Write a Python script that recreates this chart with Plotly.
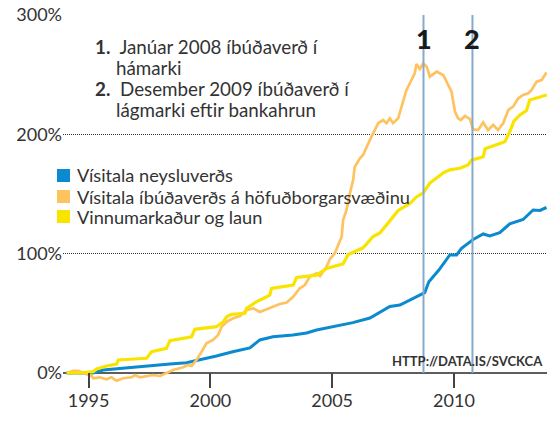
import plotly.graph_objects as go

# ---- data (decimal year, % change since start) ----
cpi_x = [1994.10, 1995.18, 1995.60, 1996.56, 1997.38, 1998.34, 1999.02, 1999.57, 2000.25, 2000.92,
         2001.62, 2002.03, 2002.57, 2003.39, 2003.95, 2004.36, 2004.77, 2005.32, 2005.85, 2006.55,
         2006.96, 2007.37, 2007.78, 2008.19, 2008.60, 2008.80, 2008.97, 2009.38, 2009.83, 2010.11,
         2010.31, 2010.79, 2011.20, 2011.47, 2011.88, 2012.29, 2012.84, 2013.25, 2013.53, 2013.80]
cpi_y = [0, 0, 2.5, 4.4, 5.9, 7.5, 8.6, 10.9, 14.2, 17.8,
         21, 27.7, 30.4, 31.8, 33.5, 36, 37.7, 39.4, 42.2, 46.1,
         51, 55.7, 57, 61, 65.4, 67.3, 76.5, 86.3, 98.9, 98.9,
         104.5, 111.9, 116.5, 114.8, 117.6, 124.9, 128.6, 136.6, 136.2, 138.7]

house_x = [1994.10, 1994.37, 1994.57, 1994.78, 1995.12, 1995.19, 1995.46, 1995.74, 1995.94, 1996.15,
           1996.42, 1996.77, 1996.90, 1997.11, 1997.38, 1997.65, 1997.93, 1998.20, 1998.47, 1998.88,
           1999.09, 1999.23, 1999.43, 1999.64, 1999.84, 2000.11, 2000.32, 2000.46, 2000.67, 2000.94,
           2001.21, 2001.49, 2001.76, 2002.03, 2002.44, 2002.85, 2003.13, 2003.40, 2003.67, 2003.88,
           2004.08, 2004.36, 2004.50, 2004.77, 2004.91, 2005.11, 2005.18, 2005.39, 2005.45, 2005.59,
           2005.73, 2005.86, 2005.93, 2006.14, 2006.27, 2006.41, 2006.55, 2006.75, 2006.89, 2007.09,
           2007.23, 2007.37, 2007.50, 2007.71, 2007.85, 2008.05, 2008.19, 2008.39, 2008.46, 2008.60,
           2008.74, 2008.88, 2009.01, 2009.29, 2009.56, 2009.77, 2009.90, 2010.04, 2010.17, 2010.28,
           2010.45, 2010.65, 2010.79, 2010.99, 2011.20, 2011.40, 2011.61, 2011.81, 2012.02, 2012.23,
           2012.43, 2012.64, 2012.84, 2013.05, 2013.19, 2013.39, 2013.60, 2013.80]
house_y = [0, 1.7, 1.7, 0.3, -2.5, -4.4, -3.6, -5.3, -3.6, -6.5,
           -4.4, -3.6, -1.7, -3.6, -2.5, -1.7, -2.5, -0.3, 2.5, 4.8,
           6.7, 5.9, 10.9, 17.8, 24.9, 27.7, 31.8, 38.8, 43.0, 45.8,
           47.8, 52.8, 54.2, 51.1, 54.2, 57.8, 59.1, 63.9, 71.0, 73.7,
           80.7, 83.5, 81.3, 89.1, 95.5, 100.3, 103.9, 114.2, 128.2, 136.6,
           150.6, 161.7, 172.9, 179.9, 182.7, 189.6, 195.3, 203.6, 209.3, 212.0,
           209.3, 213.4, 209.3, 213.4, 223.2, 237.2, 242.8, 251.2, 259.0, 254.8,
           259.5, 256.7, 248.3, 252.5, 249.7, 241.3, 235.7, 219.1, 213.4, 212.0,
           215.4, 212.9, 204.1, 203.6, 209.9, 203.6, 207.8, 203.6, 209.3, 220.4,
           223.2, 230.2, 233.0, 234.4, 237.2, 244.1, 245.5, 251.8]

wage_x = [1994.10, 1994.64, 1995.19, 1995.33, 1995.74, 1996.15, 1996.22, 1997.38, 1997.59, 1998.20,
          1998.34, 1999.23, 1999.36, 2000.25, 2000.53, 2000.67, 2000.87, 2001.21, 2001.42, 2001.49,
          2001.90, 2002.17, 2002.44, 2002.51, 2003.40, 2003.54, 2004.36, 2004.77, 2005.32, 2005.45,
          2005.66, 2006.27, 2006.68, 2006.96, 2007.23, 2007.37, 2007.71, 2008.19, 2008.46, 2008.74,
          2009.01, 2009.56, 2009.83, 2010.24, 2010.58, 2010.72, 2011.20, 2011.28, 2012.09, 2012.29,
          2012.46, 2012.71, 2012.98, 2013.11, 2013.66, 2013.81]
wage_y = [0, 0, 1.1, 3.4, 5.9, 7.5, 10.9, 12.3, 17.9, 20.7,
          27.1, 30.4, 36.6, 38.8, 43.0, 47.1, 49.2, 49.4, 50.0, 54.3,
          59.8, 62.4, 65.2, 70.8, 73.6, 80.1, 82.0, 87.6, 91.2, 91.5,
          99.3, 104.9, 114.4, 117.4, 124.0, 127.5, 136.2, 142.0, 147.5, 151.0,
          159.2, 167.7, 170.2, 171.6, 174.3, 178.4, 181.2, 188.0, 193.8, 202.0,
          211.0, 216.2, 220.0, 228.7, 232.0, 233.0]

series_names = ["Vísitala neysluverðs", "Vísitala íbúðaverðs á höfuðborgarsvæðinu", "Vinnumarkaður og laun"]
series_colors = ["#0b8ad0", "#fec25e", "#f9e400"]

event_x = [2008.75, 2010.76]
event_labels = ["1", "2"]

x_tickvals = [1995, 2000, 2005, 2010]
y_tickvals = [0, 100, 200, 300]
y_ticktext = ["0%", "100%", "200%", "300%"]

note_lines = [("<b>1.</b>&nbsp; Janúar 2008 íbúðaverð í", 0), ("hámarki", 1),
              ("<b>2.</b>&nbsp; Desember 2009 íbúðaverð í", 0), ("lágmarki eftir bankahrun", 1)]
source_text = "<b>HTTP://DATA.IS/SVCKCA</b>"

FONT = "Lato"
TXT = "#333333"

# plot area in pixels: left 63, right 547, top 15, bottom 388
def px_x(p):
    return (p - 63) / 484.0

def px_y(p):
    return (388 - p) / 373.0

fig = go.Figure()

# lines (draw order: blue, orange, yellow)
for xs, ys, col, w, nm in [(cpi_x, cpi_y, series_colors[0], 3, series_names[0]),
                           (house_x, house_y, series_colors[1], 2.7, series_names[1]),
                           (wage_x, wage_y, series_colors[2], 3.2, series_names[2])]:
    fig.add_trace(go.Scatter(x=xs, y=ys, mode="lines", name=nm, showlegend=False,
                             line=dict(color=col, width=w), hoverinfo="skip"))

# legend (swatches + labels)
leg_centers = [175.5, 196.5, 216.5]
for name, col, cy in zip(series_names, series_colors, leg_centers):
    fig.add_shape(type="rect", xref="paper", yref="paper",
                  x0=px_x(57), x1=px_x(70), y0=px_y(cy + 6.5), y1=px_y(cy - 6.5),
                  fillcolor=col, line=dict(width=0), layer="above")
    fig.add_annotation(x=px_x(75), xref="paper", y=px_y(cy), yref="paper", text=name,
                       showarrow=False, xanchor="left", yanchor="middle",
                       font=dict(family=FONT, size=18.2, color=TXT))

# event lines
for ex in event_x:
    fig.add_shape(type="line", xref="x", yref="y", x0=ex, x1=ex, y0=0, y1=301,
                  line=dict(color="#84abcb", width=2), layer="above")

for ex, lab in zip(event_x, event_labels):
    fig.add_annotation(x=ex, xref="x", y=px_y(38), yref="paper", text=lab, showarrow=False,
                       font=dict(family=FONT, size=27, color="#1a1a1a", weight=900),
                       xanchor="center", yanchor="middle")

note_y = [47, 67.5, 88.5, 110]
for (txt, indent), yy in zip(note_lines, note_y):
    fig.add_annotation(x=px_x(93) if indent == 0 else px_x(114), xref="paper", y=px_y(yy), yref="paper",
                       text=txt, showarrow=False, xanchor="left", yanchor="middle",
                       font=dict(family=FONT, size=18.8, color=TXT))

fig.add_annotation(x=px_x(545), xref="paper", y=px_y(361), yref="paper", text=source_text,
                   showarrow=False, xanchor="right", yanchor="middle",
                   font=dict(family=FONT, size=13, color=TXT))

fig.update_layout(
    width=547, height=422, autosize=False,
    margin=dict(l=63, r=0, t=15, b=34),
    paper_bgcolor="white", plot_bgcolor="white",
    font=dict(family=FONT, size=18, color=TXT),
    showlegend=False,
    xaxis=dict(range=[1993.95, 2013.82], tickmode="array", tickvals=x_tickvals,
               ticks="inside", ticklen=15, tickwidth=2, tickcolor="#444444",
               showgrid=False, zeroline=False, showline=False,
               tickfont=dict(family=FONT, size=18, color=TXT)),
    yaxis=dict(range=[-12.57, 300], tickmode="array", tickvals=y_tickvals, ticktext=y_ticktext,
               ticks="", showgrid=True, gridcolor="#333333", gridwidth=1, griddash="1px,1px",
               zeroline=True, zerolinecolor="#5e5e5e", zerolinewidth=2, showline=False,
               tickfont=dict(family=FONT, size=18, color=TXT)),
)

fig.write_html("out.html", config={"displayModeBar": False},
               post_script="document.body.style.margin='0';document.body.style.overflow='hidden';"
                           "document.documentElement.style.overflow='hidden';")
